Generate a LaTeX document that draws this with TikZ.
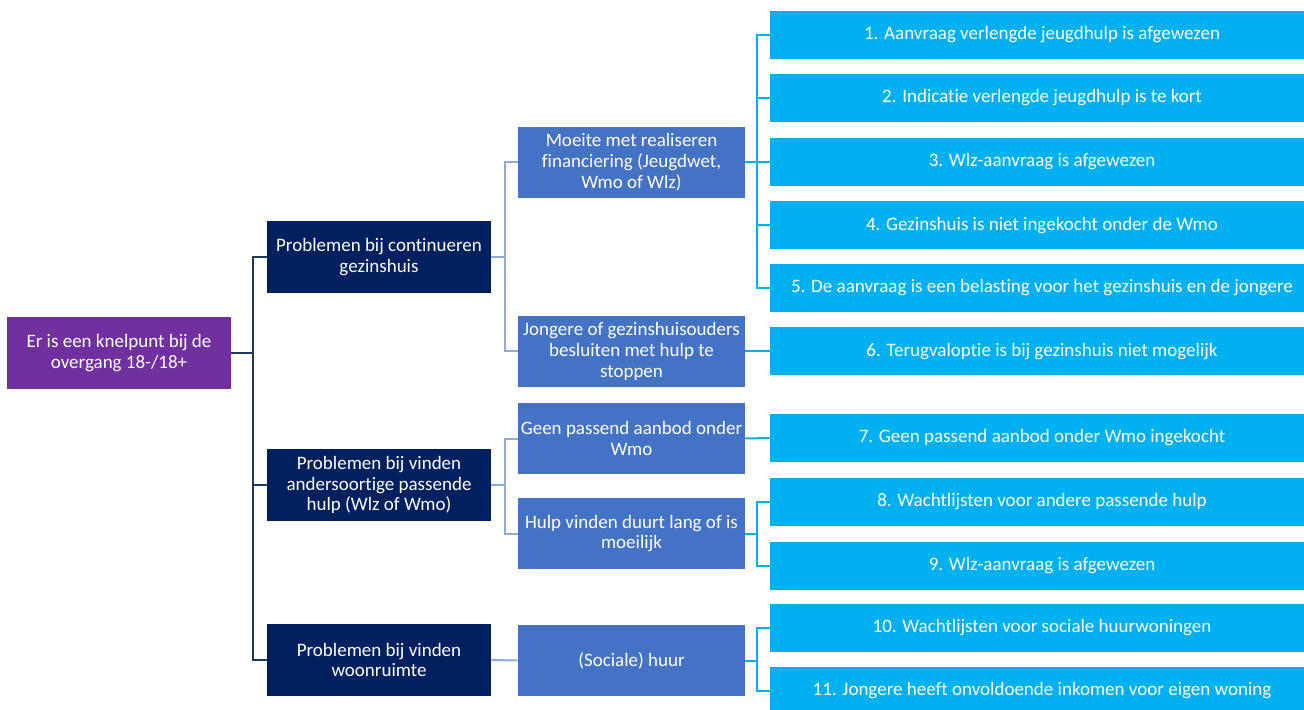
\documentclass[tikz,border=0pt]{standalone}
\usepackage{fontspec}
\setmainfont{Carlito}[Ligatures=NoCommon]
\definecolor{paars}{HTML}{7030A0}
\definecolor{donkerblauw}{HTML}{002060}
\definecolor{middenblauw}{HTML}{4472C4}
\definecolor{lichtblauw}{HTML}{00B0F0}
\definecolor{lijnlicht}{HTML}{8FAADC}
\definecolor{lijndonker}{HTML}{203864}
\begin{document}
\begin{tikzpicture}[x=0.5pt,y=-0.5pt,
  box/.style={rectangle,inner sep=0pt,text=white,align=center,font=\fontsize{9.5}{10.4}\selectfont},
  knelpunt/.style={box,fill=paars,minimum width=112pt,minimum height=36pt},
  probleem/.style={box,fill=donkerblauw,minimum width=112pt,minimum height=36pt},
  oorzaak/.style={box,fill=middenblauw,minimum width=113.5pt,minimum height=35.5pt},
  item/.style={box,fill=lichtblauw,minimum width=272pt,minimum height=24pt},
  lijn0/.style={draw=lijndonker,line width=1pt},
  lijn1/.style={draw=lijnlicht,line width=1pt},
  lijn2/.style={draw=lichtblauw,line width=1pt}]

\useasboundingbox (0,0) rectangle (1304,710);

\node [knelpunt] (kp) at (119,353) {Er is een knelpunt bij de\\overgang 18-/18+};

\node [probleem] (p1) at (379,257) {Problemen bij continueren\\gezinshuis};
\node [probleem] (p2) at (379,485) {Problemen bij vinden\\andersoortige passende\\hulp (Wlz of Wmo)};
\node [probleem] (p3) at (379,660) {Problemen bij vinden\\woonruimte};

\node [oorzaak] (o1) at (631.5,162.5) {Moeite met realiseren\\financiering (Jeugdwet,\\Wmo of Wlz)};
\node [oorzaak] (o2) at (631.5,351.5) {Jongere of gezinshuisouders\\besluiten met hulp te\\stoppen};
\node [oorzaak] (o3) at (631.5,438.5) {Geen passend aanbod onder\\Wmo};
\node [oorzaak] (o4) at (631.5,533.5) {Hulp vinden duurt lang of is\\moeilijk};
\node [oorzaak] (o5) at (631.5,660.5) {(Sociale) huur};

\node [item] (i1) at (1042,35) {1. Aanvraag verlengde jeugdhulp is afgewezen};
\node [item] (i2) at (1042,98) {2. Indicatie verlengde jeugdhulp is te kort};
\node [item] (i3) at (1042,162) {3. Wlz-aanvraag is afgewezen};
\node [item] (i4) at (1042,225.5) {4. Gezinshuis is niet ingekocht onder de Wmo};
\node [item] (i5) at (1042,288) {5. De aanvraag is een belasting voor het gezinshuis en de jongere};
\node [item] (i6) at (1042,351.5) {6. Terugvaloptie is bij gezinshuis niet mogelijk};
\node [item] (i7) at (1042,438) {7. Geen passend aanbod onder Wmo ingekocht};
\node [item] (i8) at (1042,502) {8. Wachtlijsten voor andere passende hulp};
\node [item] (i9) at (1042,565.5) {9. Wlz-aanvraag is afgewezen};
\node [item] (i10) at (1042,628) {10. Wachtlijsten voor sociale huurwoningen};
\node [item] (i11) at (1042,691) {11. Jongere heeft onvoldoende inkomen voor eigen woning};

% knelpunt naar problemen
\foreach \p in {p1,p2,p3}
  \draw [lijn0] (kp.east) -- ++(22,0) |- (\p.west);

% problemen naar oorzaken
\foreach \o in {o1,o2}
  \draw [lijn1] (p1.east) -- ++(14,0) |- (\o.west);
\foreach \o in {o3,o4}
  \draw [lijn1] (p2.east) -- ++(14,0) |- (\o.west);
\draw [lijn1] (p3.east) -- (o5.west);

% oorzaken naar knelpunten
\foreach \i in {i1,i2,i3,i4,i5}
  \draw [lijn2] (o1.east) -- ++(12,0) |- (\i.west);
\draw [lijn2] (o2.east) -- (i6.west);
\draw [lijn2] (o3.east) -- (i7.west);
\foreach \i in {i8,i9}
  \draw [lijn2] (o4.east) -- ++(12,0) |- (\i.west);
\foreach \i in {i10,i11}
  \draw [lijn2] (o5.east) -- ++(12,0) |- (\i.west);

\end{tikzpicture}
\end{document}
